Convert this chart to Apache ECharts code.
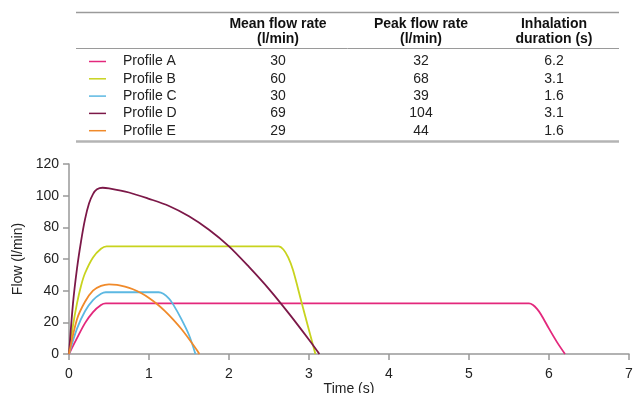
<!DOCTYPE html>
<html>
<head>
<meta charset="utf-8">
<script src="https://cdn.jsdelivr.net/npm/echarts@6/dist/echarts.min.js"></script>
<style>
  html, body { margin: 0; padding: 0; background: #fff; }
  #chart { width: 633px; height: 393px; }
</style>
</head>
<body>
<div id="chart"></div>
<script>
// table values
var profileNames = ["Profile A", "Profile B", "Profile C", "Profile D", "Profile E"];
var meanFlow = ["30", "60", "30", "69", "29"];
var peakFlow = ["32", "68", "39", "104", "44"];
var duration = ["6.2", "3.1", "1.6", "3.1", "1.6"];
var headers = [["Mean flow rate", "(l/min)"], ["Peak flow rate", "(l/min)"], ["Inhalation", "duration (s)"]];

// curves: [time (s), flow (l/min)]
var profileA = [[0,0],[0.1,10],[0.2,19.5],[0.3,26.5],[0.4,31],[0.46,32],[5.75,32],[5.8,31],[5.85,28.5],[5.9,25],[6.0,16],[6.1,7.5],[6.2,0]];
var profileB = [[0,0],[0.05,18],[0.1,32],[0.15,43],[0.2,51],[0.3,61],[0.4,66.5],[0.47,68],[2.62,68],[2.68,66],[2.74,61],[2.8,53],[2.9,34],[3.0,15],[3.08,0]];
var profileC = [[0,0],[0.1,16],[0.2,27],[0.3,34],[0.4,38],[0.46,39],[1.12,39],[1.18,38],[1.25,35],[1.3,31.5],[1.4,22.5],[1.5,12],[1.58,0]];
var profileD = [[0,0],[0.05,32],[0.1,54],[0.15,71],[0.2,85],[0.25,95],[0.3,101],[0.35,104],[0.42,105],[0.5,104.6],[0.75,102],[1.0,98],[1.25,93.5],[1.5,87],[1.75,78.5],[2.0,68],[2.25,55],[2.5,41],[2.75,25.5],[3.0,9],[3.13,0]];
var profileE = [[0,0],[0.1,22],[0.2,33],[0.3,40],[0.4,43],[0.5,44],[0.6,43.7],[0.7,42.6],[0.8,40.9],[0.9,38.5],[1.0,35.4],[1.1,31.6],[1.2,27.1],[1.3,21.9],[1.4,16.1],[1.5,9.5],[1.6,2.4],[1.63,0]];

var profiles = [profileA, profileB, profileC, profileD, profileE];
var colors = ["#e3287c", "#c8d31e", "#5cb8e2", "#7c1848", "#f08a2a"];
var fontFamily = "'Liberation Sans', Arial, Helvetica, sans-serif";

var myChart = echarts.init(document.getElementById("chart"));

// table drawn as graphic elements
var graphics = [];
graphics.push({ type: "line", shape: { x1: 76, y1: 12.5, x2: 619, y2: 12.5 }, style: { stroke: "#9a9a9a", lineWidth: 1.5 } });
graphics.push({ type: "line", shape: { x1: 76, y1: 48.5, x2: 619, y2: 48.5 }, style: { stroke: "#9a9a9a", lineWidth: 1 } });
graphics.push({ type: "line", shape: { x1: 76, y1: 141.5, x2: 619, y2: 141.5 }, style: { stroke: "#b4b4b4", lineWidth: 2.5 } });

var colX = [278, 421, 554];
headers.forEach(function (h, i) {
  graphics.push({ type: "text", style: { text: h[0], x: colX[i], y: 24, align: "center", verticalAlign: "middle", font: "bold 14px " + fontFamily, fill: "#111" } });
  graphics.push({ type: "text", style: { text: h[1], x: colX[i], y: 39.5, align: "center", verticalAlign: "middle", font: "bold 14px " + fontFamily, fill: "#111" } });
});

profileNames.forEach(function (name, i) {
  var y = 61.5 + i * 17.3;
  graphics.push({ type: "line", shape: { x1: 89, y1: y, x2: 106, y2: y }, style: { stroke: colors[i], lineWidth: 1.5 } });
  graphics.push({ type: "text", style: { text: name, x: 123, y: y, align: "left", verticalAlign: "middle", font: "14px " + fontFamily, fill: "#222" } });
  var vals = [meanFlow[i], peakFlow[i], duration[i]];
  vals.forEach(function (v, j) {
    graphics.push({ type: "text", style: { text: v, x: colX[j], y: y, align: "center", verticalAlign: "middle", font: "14px " + fontFamily, fill: "#222" } });
  });
});

var option = {
  animation: false,
  textStyle: { fontFamily: fontFamily },
  graphic: graphics,
  grid: { left: 69, right: 4, top: 164, bottom: 39, outerBoundsMode: "none", containLabel: false },
  xAxis: {
    type: "value",
    min: 0,
    max: 7,
    interval: 1,
    name: "Time (s)",
    nameLocation: "middle",
    nameGap: 24,
    nameTextStyle: { fontSize: 14, color: "#222" },
    axisLine: { show: true, lineStyle: { color: "#999", width: 1.5 } },
    axisTick: { show: true, length: 6, lineStyle: { color: "#999", width: 1.5 } },
    axisLabel: { fontSize: 14, color: "#222", margin: 13 },
    splitLine: { show: false }
  },
  yAxis: {
    type: "value",
    min: 0,
    max: 120,
    interval: 20,
    name: "Flow (l/min)",
    nameLocation: "middle",
    nameGap: 42,
    nameTextStyle: { fontSize: 14, color: "#222" },
    axisLine: { show: true, lineStyle: { color: "#999", width: 1.5 } },
    axisTick: { show: true, length: 6, lineStyle: { color: "#999", width: 1.5 } },
    axisLabel: { fontSize: 14, color: "#222", margin: 10 },
    splitLine: { show: false }
  },
  series: profiles.map(function (data, i) {
    return {
      name: profileNames[i],
      type: "line",
      data: data,
      smooth: 0.3,
      showSymbol: false,
      lineStyle: { color: colors[i], width: 1.8 },
      itemStyle: { color: colors[i] }
    };
  })
};

myChart.setOption(option);
</script>
</body>
</html>
